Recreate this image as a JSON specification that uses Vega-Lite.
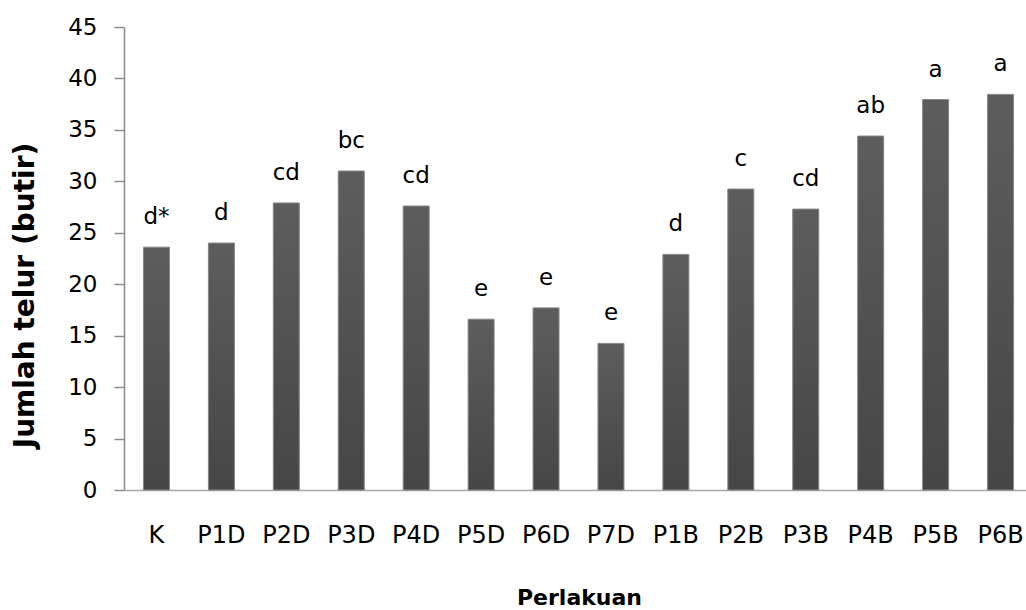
{
  "$schema": "https://vega.github.io/schema/vega-lite/v6.json",
  "autosize": {"type": "none"},
  "padding": {"left": 124, "top": 27, "right": 0, "bottom": 120},
  "width": 902,
  "height": 463,
  "background": "white",
  "config": {"view": {"stroke": null}, "font": "DejaVu Sans"},
  "data": {"values": [
    {"perlakuan": "K", "jumlah": 23.6, "notasi": "d*"},
    {"perlakuan": "P1D", "jumlah": 24.0, "notasi": "d"},
    {"perlakuan": "P2D", "jumlah": 27.9, "notasi": "cd"},
    {"perlakuan": "P3D", "jumlah": 31.0, "notasi": "bc"},
    {"perlakuan": "P4D", "jumlah": 27.6, "notasi": "cd"},
    {"perlakuan": "P5D", "jumlah": 16.6, "notasi": "e"},
    {"perlakuan": "P6D", "jumlah": 17.7, "notasi": "e"},
    {"perlakuan": "P7D", "jumlah": 14.25, "notasi": "e"},
    {"perlakuan": "P1B", "jumlah": 22.9, "notasi": "d"},
    {"perlakuan": "P2B", "jumlah": 29.25, "notasi": "c"},
    {"perlakuan": "P3B", "jumlah": 27.3, "notasi": "cd"},
    {"perlakuan": "P4B", "jumlah": 34.4, "notasi": "ab"},
    {"perlakuan": "P5B", "jumlah": 37.95, "notasi": "a"},
    {"perlakuan": "P6B", "jumlah": 38.45, "notasi": "a"}
  ]},
  "encoding": {
    "x": {
      "field": "perlakuan", "type": "nominal", "sort": null,
      "scale": {"paddingInner": 0.6, "paddingOuter": 0.3, "range": [0, 909]},
      "axis": {
        "title": "Perlakuan", "titleFont": "DejaVu Sans", "titleFontSize": 22, "titleFontWeight": "bold",
        "titleColor": "#000", "titleX": 455, "titleY": 114, "titleBaseline": "alphabetic", "titleAlign": "center",
        "labelAngle": 0, "labelFont": "DejaVu Sans", "labelFontSize": 24, "labelColor": "#000", "labelPadding": 33,
        "labelBaseline": "top",
        "domainColor": "#a6a6a6", "domainWidth": 1.5, "ticks": false
      }
    },
    "y": {
      "field": "jumlah", "type": "quantitative",
      "scale": {"domain": [0, 45], "nice": false},
      "axis": {
        "title": "Jumlah telur (butir)", "titleFont": "DejaVu Sans", "titleFontSize": 28, "titleFontWeight": "bold",
        "titleColor": "#000", "titleX": -99, "titleY": 268, "titleAngle": 270, "titleAlign": "center", "titleBaseline": "middle",
        "values": [0, 5, 10, 15, 20, 25, 30, 35, 40, 45],
        "labelFont": "DejaVu Sans", "labelFontSize": 23, "labelColor": "#000", "labelPadding": 17,
        "domainColor": "#8c8c8c", "domainWidth": 1.5, "tickColor": "#8c8c8c", "tickSize": 10, "tickWidth": 1.5,
        "grid": false
      }
    }
  },
  "layer": [
    {
      "mark": {
        "type": "bar",
        "stroke": "#858585", "strokeWidth": 1,
        "color": {
          "gradient": "linear", "x1": 0, "y1": 0, "x2": 0, "y2": 1,
          "stops": [{"offset": 0, "color": "#5d5d5d"}, {"offset": 1, "color": "#464646"}]
        }
      }
    },
    {
      "mark": {"type": "text", "baseline": "alphabetic", "dy": -23, "font": "DejaVu Sans", "fontSize": 23, "color": "#000"},
      "encoding": {"text": {"field": "notasi"}}
    }
  ]
}
